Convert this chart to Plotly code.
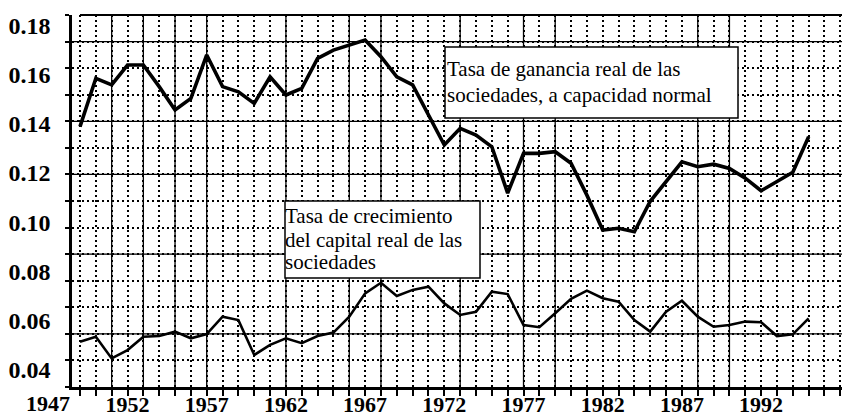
import plotly.graph_objects as go

# ---------------- data ----------------
years = list(range(1949, 1996))

profit_rate = [0.1389, 0.1586, 0.1559, 0.1640, 0.1640, 0.1552, 0.1457, 0.1504, 0.1681, 0.1552,
               0.1531, 0.1484, 0.1592, 0.1518, 0.1545, 0.1667, 0.1701, 0.1722, 0.1742, 0.1674,
               0.1592, 0.1559, 0.1437, 0.1314, 0.1382, 0.1355, 0.1307, 0.1118, 0.1280, 0.1280,
               0.1287, 0.1240, 0.1110, 0.0968, 0.0975, 0.0961, 0.1085, 0.1165, 0.1246, 0.1226,
               0.1236, 0.1219, 0.1179, 0.1128, 0.1165, 0.1203, 0.1348]

capital_growth = [0.0513, 0.0533, 0.0445, 0.0479, 0.0533, 0.0536, 0.0554, 0.0527, 0.0544, 0.0615,
                  0.0601, 0.0459, 0.0500, 0.0527, 0.0507, 0.0536, 0.0550, 0.0615, 0.0710, 0.0753,
                  0.0699, 0.0724, 0.0737, 0.0669, 0.0622, 0.0635, 0.0717, 0.0707, 0.0581, 0.0572,
                  0.0629, 0.0688, 0.0721, 0.0690, 0.0676, 0.0601, 0.0554, 0.0635, 0.0680, 0.0615,
                  0.0574, 0.0581, 0.0595, 0.0592, 0.0536, 0.0543, 0.0608]

y_tick_vals = [0.04, 0.06, 0.08, 0.10, 0.12, 0.14, 0.16, 0.18]
y_tick_text = ["0.04", "0.06", "0.08", "0.10", "0.12", "0.14", "0.16", "0.18"]
x_tick_vals = [1952, 1957, 1962, 1967, 1972, 1977, 1982, 1987, 1992]
x_tick_text = ["1952", "1957", "1962", "1967", "1972", "1977", "1982", "1987", "1992"]
first_year_label = "1947"

label_profit = ["Tasa de ganancia real de las", "sociedades, a capacidad normal"]
label_capital = ["Tasa de crecimiento", "del capital real de las", "sociedades"]

solid_year_lines = [1951, 1953, 1955, 1957, 1962, 1966, 1968, 1973, 1977, 1979, 1988, 1990]
solid_grid_rows = [2, 5, 8, 10, 13]

# ---------------- layout constants ----------------
W, H = 842, 417
ML, MR, MT, MB = 72, 0, 15, 30
X_RANGE = [1948.495, 1997.106]
Y_RANGE = [0.03285, 0.18438]
N_ROWS = 14
GRID_DY = (Y_RANGE[1] - Y_RANGE[0]) / N_ROWS
PW, PH = W - ML - MR, H - MT - MB


def px(x):
    return (x - ML) / PW


def py(y):
    return (H - MB - y) / PH


SERIF = "Liberation Serif, DejaVu Serif, serif"
DOT = "2px,3px"

fig = go.Figure()
fig.add_trace(go.Scatter(x=years, y=profit_rate, mode="lines",
                         line=dict(color="black", width=3.6), name="ganancia"))
fig.add_trace(go.Scatter(x=years, y=capital_growth, mode="lines",
                         line=dict(color="black", width=2.6), name="capital"))

shapes = []
for yr in solid_year_lines:
    shapes.append(dict(type="line", xref="x", yref="paper", x0=yr, x1=yr, y0=0, y1=1,
                       line=dict(color="black", width=1.3), layer="below"))
for k in solid_grid_rows:
    v = Y_RANGE[0] + k * GRID_DY
    shapes.append(dict(type="line", xref="paper", yref="y", x0=0, x1=1, y0=v, y1=v,
                       line=dict(color="black", width=1.3), layer="below"))
# top border
shapes.append(dict(type="line", xref="paper", yref="paper", x0=px(80), x1=1, y0=1, y1=1,
                   line=dict(color="black", width=2.2), layer="above"))
# label boxes
shapes.append(dict(type="rect", xref="paper", yref="paper", x0=px(445), x1=px(738),
                   y0=py(118), y1=py(47), fillcolor="white",
                   line=dict(color="black", width=1.5), layer="above"))
shapes.append(dict(type="rect", xref="paper", yref="paper", x0=px(285), x1=px(480),
                   y0=py(278), y1=py(201), fillcolor="white",
                   line=dict(color="black", width=1.5), layer="above"))

annotations = []
for txt, yy in zip(label_profit, [69, 95]):
    annotations.append(dict(text=txt, xref="paper", yref="paper", x=px(445), y=py(yy),
                            xanchor="left", yanchor="middle", showarrow=False,
                            font=dict(family=SERIF, size=21, color="black")))
for txt, yy in zip(label_capital, [216, 239.5, 262]):
    annotations.append(dict(text=txt, xref="paper", yref="paper", x=px(283), y=py(yy),
                            xanchor="left", yanchor="middle", showarrow=False,
                            font=dict(family=SERIF, size=21, color="black")))
annotations.append(dict(text=first_year_label, xref="paper", yref="paper",
                        x=(1947 - X_RANGE[0]) / (X_RANGE[1] - X_RANGE[0]), y=py(403),
                        xanchor="center", yanchor="middle", showarrow=False,
                        font=dict(family=SERIF, size=22, color="black", weight="bold")))

fig.update_layout(
    template="none",
    width=W, height=H,
    margin=dict(l=ML, r=MR, t=MT, b=MB, pad=0),
    paper_bgcolor="white", plot_bgcolor="white",
    showlegend=False,
    shapes=shapes, annotations=annotations,
    xaxis=dict(range=X_RANGE, tickmode="array", tickvals=x_tick_vals, ticktext=x_tick_text,
               automargin=False,
               ticks="", ticklen=0,
               showgrid=True, griddash=DOT, gridcolor="black", gridwidth=1.6,
               showline=True, linewidth=3, linecolor="black", zeroline=False,
               tickfont=dict(family=SERIF, size=22, color="black", weight="bold"),
               ticklabelstandoff=-4,
               minor=dict(tickmode="linear", tick0=1949, dtick=1, showgrid=True,
                          griddash=DOT, gridcolor="black", gridwidth=1.6,
                          ticks="outside", ticklen=6, tickwidth=1.5, tickcolor="black")),
    yaxis=dict(range=Y_RANGE, tickmode="array", tickvals=y_tick_vals, ticktext=y_tick_text,
               automargin=False,
               ticks="", showgrid=False, showline=True, linewidth=2.5, linecolor="black",
               zeroline=False,
               tickfont=dict(family=SERIF, size=24, color="black", weight="bold"),
               ticklabelstandoff=14,
               minor=dict(tickmode="linear", tick0=Y_RANGE[0], dtick=GRID_DY, showgrid=True,
                          griddash=DOT, gridcolor="black", gridwidth=1.6,
                          ticks="outside", ticklen=4, tickwidth=1.5, tickcolor="black")),
)

fig.write_html("out.html",
               config={"displayModeBar": False},
               post_script="document.body.style.margin='0';document.body.style.padding='0';"
                           "document.documentElement.style.overflow='hidden';")
